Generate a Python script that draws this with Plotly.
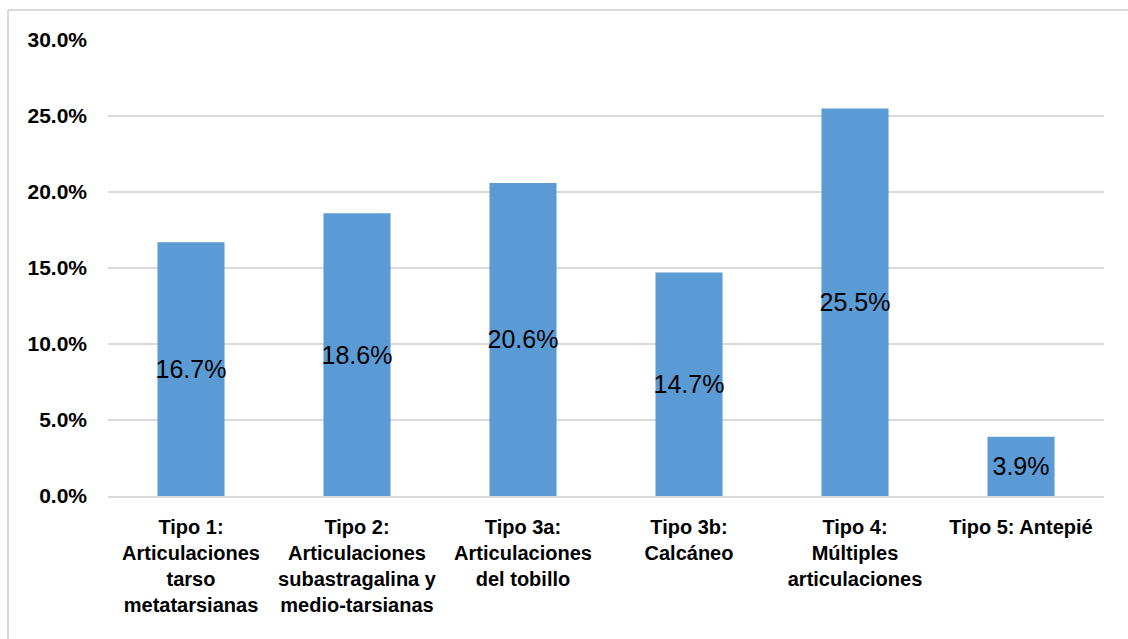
import plotly.graph_objects as go

# Distribution of foot/ankle involvement by type
categories = [
    "Tipo 1:<br>Articulaciones<br>tarso<br>metatarsianas",
    "Tipo 2:<br>Articulaciones<br>subastragalina y<br>medio-tarsianas",
    "Tipo 3a:<br>Articulaciones<br>del tobillo",
    "Tipo 3b:<br>Calcáneo",
    "Tipo 4:<br>Múltiples<br>articulaciones",
    "Tipo 5: Antepié",
]
percentages = [0.167, 0.186, 0.206, 0.147, 0.255, 0.039]
y_ticks = [0.0, 0.05, 0.10, 0.15, 0.20, 0.25, 0.30]

BAR_COLOR = "#5B9BD5"
GRID_COLOR = "#D9D9D9"
FONT = "Liberation Sans"

fig = go.Figure(
    go.Bar(
        x=categories,
        y=percentages,
        marker=dict(color=BAR_COLOR, line=dict(width=0)),
        texttemplate="%{y:.1%}",
        textposition="inside",
        insidetextanchor="middle",
        textangle=0,
        constraintext="none",
        textfont=dict(family=FONT, size=25, color="#000000"),
        hoverinfo="skip",
    )
)

fig.update_layout(
    width=1128,
    height=639,
    margin=dict(l=108, r=24, t=40, b=143),
    paper_bgcolor="white",
    plot_bgcolor="white",
    bargap=0.596,
    showlegend=False,
    font=dict(family=FONT, color="#000000"),
    shapes=[
        # outer chart frame (top and left edges visible)
        dict(type="line", xref="paper", yref="paper",
             x0=-0.1004, x1=1.2, y0=1.0658, y1=1.0658,
             line=dict(color=GRID_COLOR, width=2)),
        dict(type="line", xref="paper", yref="paper",
             x0=-0.1004, x1=-0.1004, y0=1.0658, y1=-0.5,
             line=dict(color=GRID_COLOR, width=2)),
    ],
)

fig.update_yaxes(
    range=[0, 0.30],
    tickvals=y_ticks,
    tickformat=".1%",
    showgrid=True,
    gridcolor=GRID_COLOR,
    gridwidth=1.5,
    zeroline=False,
    showline=False,
    ticks="",
    ticklabelstandoff=20,
    tickfont=dict(family=FONT, size=21, color="#000000", weight="bold"),
)

fig.update_xaxes(
    showline=True,
    linecolor=GRID_COLOR,
    linewidth=1.5,
    ticks="",
    tickangle=0,
    ticklabelstandoff=12,
    tickfont=dict(family=FONT, size=20, color="#000000", weight="bold"),
)

fig.write_html("out.html")
